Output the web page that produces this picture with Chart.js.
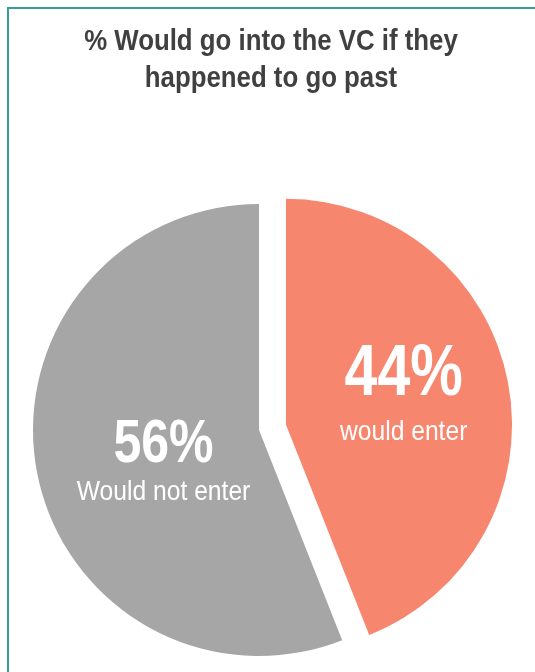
<!DOCTYPE html>
<html>
<head>
<meta charset="utf-8">
<script src="https://cdn.jsdelivr.net/npm/chart.js@4/dist/chart.umd.min.js"></script>
<style>
  html, body { margin: 0; padding: 0; background: #fff; }
  #wrap { position: relative; width: 535px; height: 672px; overflow: hidden; }
  #frame { position: absolute; left: 7px; top: 7px; width: 600px; height: 700px;
           border-top: 2px solid #3a9e96; border-left: 2px solid #3a9e96; }
  #title { position: absolute; left: 0; top: 21px; width: 542px; text-align: center;
           font: bold 30px "Liberation Sans", Arial, sans-serif; line-height: 37px;
           color: #404040; transform: scaleX(0.86); transform-origin: 271px 0; }
  canvas { position: absolute; left: 0; top: 0; }
</style>
</head>
<body>
<div id="wrap">
  <div id="frame"></div>
  <canvas id="myChart" width="535" height="672"></canvas>
  <div id="title">% Would go into the VC if they<br>happened to go past</div>
</div>
<script>
// values
const categories = ['would enter', 'Would not enter'];
const shares = [44, 56];
const pctLabels = shares.map(v => v + '%');

// label placement per slice (fraction of radius along the slice middle, baselines)
const labelFrac = [0.53, 0.43];
const bigDy = [-7, 14];
const subDy = [38, 52];
const bigSize = [72, 61];

// Chart.js grows an offset slice's radius and trims its angles a bit;
// undo that so the exploded slice keeps the same size and straight edges
const keepRadius = {
  id: 'keepRadius',
  afterUpdate(chart) {
    const meta = chart.getDatasetMeta(0);
    const R = meta.controller.outerRadius;
    meta.data.forEach(arc => {
      const o = (arc.options.offset || 0) / 4;
      if (!o) return;
      const fix = 1 - Math.sin(Math.min(Math.PI, arc.circumference));
      const ro = o * fix;
      arc.outerRadius = R - ro;
      const a = ro / (2 * Math.PI * R);
      arc.startAngle -= a;
      arc.endAngle += a;
    });
  }
};

const sliceLabels = {
  id: 'sliceLabels',
  afterDatasetsDraw(chart) {
    const ctx = chart.ctx;
    const meta = chart.getDatasetMeta(0);
    const R = meta.controller.outerRadius;
    meta.data.forEach((arc, i) => {
      const half = (arc.startAngle + arc.endAngle) / 2;
      const o = (arc.options.offset || 0) / 4;
      const d = o + labelFrac[i] * R;
      const x = arc.x + Math.cos(half) * d;
      const y = arc.y + Math.sin(half) * d;
      ctx.save();
      ctx.fillStyle = '#ffffff';
      ctx.textAlign = 'center';
      ctx.textBaseline = 'alphabetic';
      ctx.save();
      ctx.translate(x, y + bigDy[i]);
      ctx.scale(0.82, 1);
      ctx.font = 'bold ' + bigSize[i] + 'px "Liberation Sans", Arial, sans-serif';
      ctx.fillText(pctLabels[i], 0, 0);
      ctx.restore();
      ctx.translate(x, y + subDy[i]);
      ctx.scale(0.88, 1);
      ctx.font = '28px "Liberation Sans", Arial, sans-serif';
      ctx.fillText(categories[i], 0, 0);
      ctx.restore();
    });
  }
};

const ctx = document.getElementById('myChart').getContext('2d');
const myChart = new Chart(ctx, {
  type: 'pie',
  data: {
    labels: categories,
    datasets: [{
      data: shares,
      backgroundColor: ['#f7866e', '#a6a6a6'],
      borderWidth: 0,
      offset: [110, 0]
    }]
  },
  options: {
    responsive: false,
    animation: false,
    radius: 226,
    layout: { padding: { left: 0, right: 17, top: 188, bottom: 0 } },
    plugins: {
      legend: { display: false },
      tooltip: { enabled: false },
      title: { display: false }
    }
  },
  plugins: [keepRadius, sliceLabels]
});
</script>
</body>
</html>
